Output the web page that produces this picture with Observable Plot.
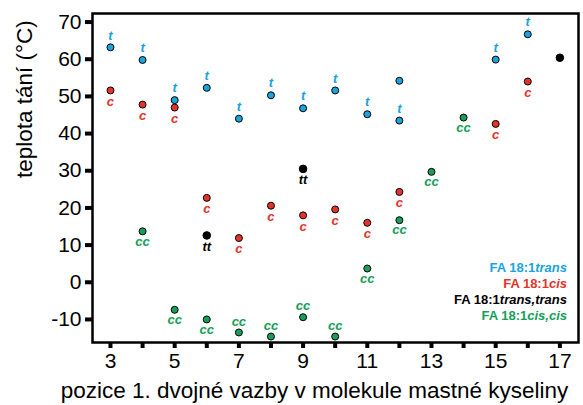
<!DOCTYPE html>
<html><head><meta charset="utf-8">
<script src="https://cdn.jsdelivr.net/npm/d3@7"></script>
<script src="https://cdn.jsdelivr.net/npm/@observablehq/plot@0.6"></script>
<style>
body{margin:0;background:#fff;font-family:"Liberation Sans",Arial,sans-serif;}
#wrap{position:relative;width:583px;height:405px;}
#legend{position:absolute;right:16px;top:260px;text-align:right;font-weight:bold;font-size:13px;line-height:16px;}
#legend i{font-style:italic;}
</style></head><body>
<div id="wrap"><div id="chart"></div>
<div id="legend">
<div style="color:#1ba3dc">FA 18:1<i>trans</i></div>
<div style="color:#e5332a">FA 18:1<i>cis</i></div>
<div style="color:#000">FA 18:1<i>trans,trans</i></div>
<div style="color:#15a05a">FA 18:1<i>cis,cis</i></div>
</div></div>
<script>
// data
const transX = [3,4,5,6,7,8,9,10,11,12,12,15,16];
const transY = [63.2,59.8,49.0,52.3,44.0,50.3,46.8,51.6,45.2,54.2,43.5,59.9,66.7];
const transLbl = ["t","t","t","t","t","t","t","t","t","","t","t","t"];
const cisX = [3,4,5,6,7,8,9,10,11,12,15,16];
const cisY = [51.6,47.8,47.0,22.7,11.9,20.6,18.0,19.6,16.0,24.3,42.6,54.0];
const cisLbl = ["c","c","c","c","c","c","c","c","c","c","c","c"];
const ttX = [6,9,17];
const ttY = [12.6,30.5,60.4];
const ttLbl = ["tt","tt",""];
const ccX = [4,5,6,7,8,9,10,11,12,13,14];
const ccY = [13.7,-7.4,-10.0,-13.5,-14.6,-9.4,-14.6,3.7,16.7,29.7,44.3];
const ccLbl = ["cc","cc","cc","cc","cc","cc","cc","cc","cc","cc","cc"];
const xTicks = [3,4,5,6,7,8,9,10,11,12,13,14,15,16,17];
const yTicks = [-10,0,10,20,30,40,50,60,70];
const xTitle = "pozice 1. dvojné vazby v molekule mastné kyseliny";
const yTitle = "teplota tání (°C)";

const BLUE="#1ba3dc", RED="#e5332a", GREEN="#15a05a";
const mk = (xs, ys, ls) => xs.map((x,i)=>({x, y:ys[i], l:ls[i]}));
const trans = mk(transX,transY,transLbl);
const cis = mk(cisX,cisY,cisLbl);
const tt = mk(ttX,ttY,ttLbl);
const cc = mk(ccX,ccY,ccLbl);
const ccAbove = new Set([7,8,9,10]);
const lblFont = {fontSize:13, fontWeight:"bold", fontStyle:"italic"};

const plot = Plot.plot({
  width:583, height:405,
  marginTop:13, marginLeft:92, marginRight:5, marginBottom:63,
  style:{fontFamily:'"Liberation Sans",Arial,sans-serif', background:"white", color:"#000"},
  x:{domain:[2.44,17.58]},
  y:{domain:[-16.2,72.3]},
  marks:[
    Plot.frame({stroke:"#000", strokeWidth:2.5}),
    Plot.axisX({ticks:xTicks, tickSize:6, strokeWidth:4, tickPadding:5, fontSize:21,
      tickFormat:d => d%2 ? String(d) : "", label:null}),
    Plot.axisY({ticks:yTicks, tickSize:7, strokeWidth:4, tickPadding:4, fontSize:21, label:null,
      tickFormat:d=>String(d)}),
    Plot.text([xTitle], {frameAnchor:"bottom", text:d=>d, dy:48, dx:-21, fontSize:22.5, lineAnchor:"middle"}),
    Plot.text([yTitle], {frameAnchor:"left", text:d=>d, dx:-68, rotate:-90, fontSize:22.5, lineAnchor:"middle"}),
    Plot.dot(trans, {x:"x", y:"y", r:3.5, fill:BLUE, stroke:"#000", strokeWidth:1}),
    Plot.dot(cis, {x:"x", y:"y", r:3.5, fill:RED, stroke:"#000", strokeWidth:1}),
    Plot.dot(tt, {x:"x", y:"y", r:3.8, fill:"#000", stroke:"#000", strokeWidth:1}),
    Plot.dot(cc, {x:"x", y:"y", r:3.5, fill:GREEN, stroke:"#000", strokeWidth:1}),
    Plot.text(trans, {x:"x", y:"y", text:"l", dy:-12, fill:BLUE, ...lblFont}),
    Plot.text(cis, {x:"x", y:"y", text:"l", dy:11, fill:RED, ...lblFont}),
    Plot.text(tt, {x:"x", y:"y", text:"l", dy:11, fill:"#000", ...lblFont}),
    Plot.text(cc.filter(d=>!ccAbove.has(d.x)), {x:"x", y:"y", text:"l", dy:10, fill:GREEN, ...lblFont}),
    Plot.text(cc.filter(d=>ccAbove.has(d.x)), {x:"x", y:"y", text:"l", dy:-11, fill:GREEN, ...lblFont})
  ]
});
document.getElementById("chart").appendChild(plot);
</script>
</body></html>
